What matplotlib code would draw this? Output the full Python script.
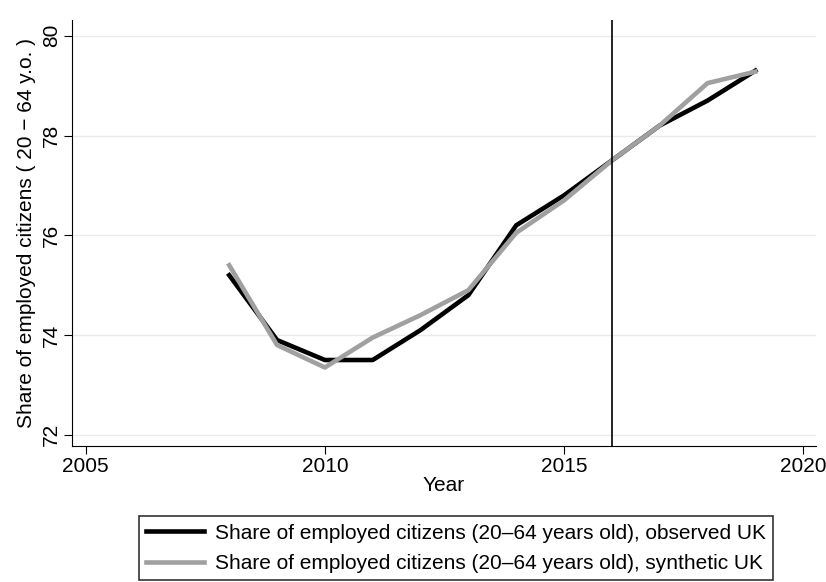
import matplotlib
matplotlib.use("Agg")
import matplotlib.pyplot as plt

years = [2008, 2009, 2010, 2011, 2012, 2013, 2014, 2015, 2016, 2017, 2018, 2019]
observed = [75.2, 73.9, 73.5, 73.5, 74.1, 74.8, 76.2, 76.8, 77.5, 78.2, 78.7, 79.3]
synthetic = [75.4, 73.8, 73.35, 73.95, 74.4, 74.9, 76.05, 76.7, 77.5, 78.2, 79.05, 79.28]
treat_year = 2016
xticks = [2005, 2010, 2015, 2020]
yticks = [72, 74, 76, 78, 80]
label_obs = "Share of employed citizens (20\u201364 years old), observed UK"
label_syn = "Share of employed citizens (20\u201364 years old), synthetic UK"

plt.rcParams['font.family'] = ['Liberation Sans', 'DejaVu Sans']
FS = 15

fig = plt.figure(figsize=(8.26, 5.82), dpi=100)
ax = fig.add_axes([0.087, 0.234, 0.901, 0.732])

for y in yticks:
    ax.axhline(y, color='#ebebeb', lw=1.0, zorder=0)

l1, = ax.plot(years, observed, color='black', lw=3.3, label=label_obs, zorder=3)
l2, = ax.plot(years, synthetic, color='#a0a0a0', lw=3.3, label=label_syn, zorder=4)
ax.axvline(treat_year, color='black', lw=1.2, zorder=5)

ax.set_xlim(2004.71, 2020.27)
ax.set_ylim(71.78, 80.32)
ax.set_xticks(xticks)
ax.set_yticks(yticks)
ax.tick_params(axis='both', labelsize=FS, length=6, width=0.8, pad=2)
for lab in ax.get_yticklabels():
    lab.set_rotation(90)
    lab.set_va('center')
ax.spines['top'].set_visible(False)
ax.spines['right'].set_visible(False)
ax.set_xlabel("Year", fontsize=FS, labelpad=0)
ax.set_ylabel("Share of employed citizens ( 20 \u2212 64 y.o. )", fontsize=FS, labelpad=4)

leg = fig.legend(handles=[l1, l2], loc='upper center', bbox_to_anchor=(0.552, 0.113),
                 fontsize=FS, frameon=True, fancybox=False, edgecolor='black',
                 handlelength=2.8, borderpad=0.35, labelspacing=0.55, handletextpad=0.5,
                 borderaxespad=0)
leg.get_frame().set_linewidth(1.2)

fig.savefig("out.png", dpi=100)
